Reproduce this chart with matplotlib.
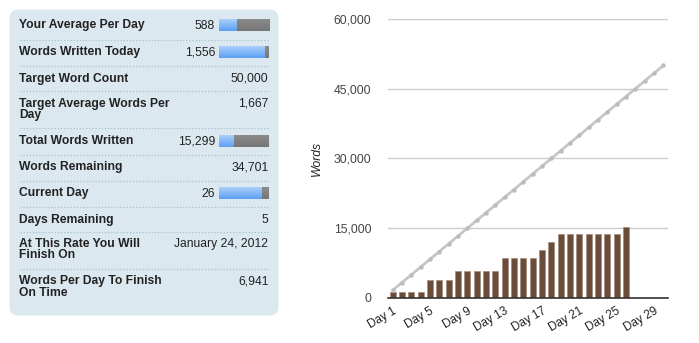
import matplotlib
matplotlib.use("Agg")
import matplotlib.pyplot as plt
import numpy as np
from matplotlib.patches import FancyBboxPatch
from matplotlib.colors import LinearSegmentedColormap

plt.rcParams['font.family'] = ['Liberation Sans', 'DejaVu Sans']

# ---------------- data ----------------
days = [f"Day {i}" for i in range(1, 31)]
words_written = [1200, 1200, 1200, 1200, 3900, 3900, 3900, 5850, 5850, 5850,
                 5850, 5850, 8650, 8650, 8650, 8650, 10350, 12100, 13743, 13743,
                 13743, 13743, 13743, 13743, 13743, 15299, 0, 0, 0, 0]
target_words = [1667, 3333, 5000, 6667, 8333, 10000, 11667, 13333, 15000, 16667,
                18333, 20000, 21667, 23333, 25000, 26667, 28333, 30000, 31667, 33333,
                35000, 36667, 38333, 40000, 41667, 43333, 45000, 46667, 48333, 50000]
y_ticks = [0, 15000, 30000, 45000, 60000]
x_tick_days = [1, 5, 9, 13, 17, 21, 25, 29]

stat_labels = ["Your Average Per Day", "Words Written Today", "Target Word Count",
               "Target Average Words Per\nDay", "Total Words Written", "Words Remaining",
               "Current Day", "Days Remaining", "At This Rate You Will\nFinish On",
               "Words Per Day To Finish\nOn Time"]
stat_values = ["588", "1,556", "50,000", "1,667", "15,299", "34,701", "26", "5",
               "January 24, 2012", "6,941"]
# progress fraction for rows that show a bar (None = no bar)
stat_progress = [588 / 1667, 1556 / 1667, None, None, 15299 / 50000, None,
                 26 / 30, None, None, None]

# ---------------- figure ----------------
W, H = 699, 343
fig = plt.figure(figsize=(W / 100, H / 100), dpi=100)
fig.patch.set_facecolor('white')

pa = fig.add_axes([0, 0, 1, 1])
pa.set_xlim(0, W)
pa.set_ylim(H, 0)
pa.axis('off')

panel = FancyBboxPatch((9.5, 9.5), 269, 306, boxstyle="round,pad=0,rounding_size=9",
                       facecolor='#dbe8ef', edgecolor='none')
pa.add_patch(panel)

row_y = [25, 51.7, 78.7, 104, 140.7, 167.3, 192.7, 220, 244.3, 281.7]
sep_y = [39.5, 66, 91, 128.3, 155, 180.7, 207.3, 232.3, 269]
FS = 8.7

for s in sep_y:
    pa.plot([19.5, 268.5], [s, s], color='#a9c2cf', lw=0.9, ls=(0, (1, 1.5)))

grad = np.linspace(0, 1, 20).reshape(-1, 1)
bcmap = LinearSegmentedColormap.from_list('b', ['#a9cffc', '#5e9ff4'])
gcmap = LinearSegmentedColormap.from_list('g', ['#8a8a8a', '#777777'])

for lab, val, prog, y in zip(stat_labels, stat_values, stat_progress, row_y):
    if '\n' in lab:
        pa.text(19, y - 6.5, lab, fontsize=FS, fontweight='bold', color='#222222',
                va='top', ha='left', linespacing=0.95)
    else:
        pa.text(19, y, lab, fontsize=FS, fontweight='bold', color='#222222',
                va='center', ha='left')
    if prog is None:
        pa.text(268.5, y, val, fontsize=FS, color='#222222', va='center', ha='right')
    else:
        x0, x1 = 219, 268.7
        y0, y1 = y - 6, y + 6
        xm = x0 + (x1 - x0) * prog
        pa.imshow(grad, cmap=bcmap, extent=(x0, xm, y1, y0), aspect='auto',
                  interpolation='bilinear', zorder=3)
        pa.imshow(grad, cmap=gcmap, extent=(xm, x1, y1, y0), aspect='auto',
                  interpolation='bilinear', zorder=3)
        pa.text(215, y + 1, val, fontsize=FS, color='#222222', va='center', ha='right')
pa.set_xlim(0, W)
pa.set_ylim(H, 0)

# ---------------- chart ----------------
L, R, T, B = 388, 668, 19, 298
ax = fig.add_axes([L / W, (H - B) / H, (R - L) / W, (B - T) / H])
x = np.arange(len(days))
ax.bar(x, words_written, width=0.62, color='#6b4c38', edgecolor='#a38d7e',
       linewidth=0.5, zorder=3)
ax.plot(x, target_words, color='#c6c6c6', lw=2, marker='o', markersize=2.2,
        markerfacecolor='#bcbcbc', markeredgecolor='#bcbcbc', zorder=4)
ax.set_xlim(-0.5, len(days) - 0.5)
ax.set_ylim(0, 60000)
ax.set_yticks(y_ticks)
ax.set_yticklabels([f"{v:,}" for v in y_ticks], fontsize=8.7, color='#444444')
ax.yaxis.grid(True, color='#cccccc', lw=1, zorder=0)
ax.set_axisbelow(True)
ax.tick_params(axis='y', length=0, pad=12)
for s in ['left', 'right', 'top']:
    ax.spines[s].set_visible(False)
ax.spines['bottom'].set_color('#333333')
ax.spines['bottom'].set_linewidth(1.2)
ax.spines['bottom'].set_zorder(5)
ax.set_xticks([d - 1 for d in x_tick_days])
ax.set_xticklabels([days[d - 1] for d in x_tick_days], fontsize=8.5, color='#222222',
                   rotation=30, ha='right', rotation_mode='anchor')
ax.tick_params(axis='x', length=0, pad=5)
ax.set_ylabel('Words', fontsize=8.7, style='italic', color='#222222', labelpad=8)
ax.set_facecolor('none')

fig.savefig('out.png', dpi=100, facecolor='white')
